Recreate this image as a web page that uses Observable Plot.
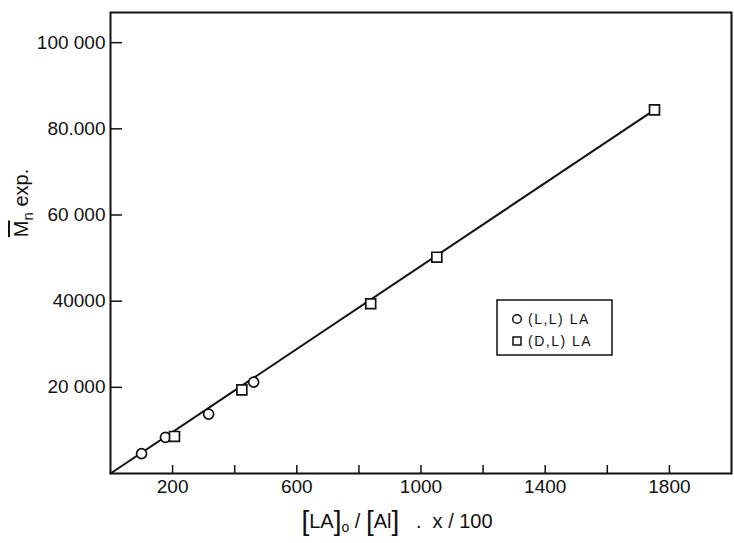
<!DOCTYPE html>
<html>
<head>
<meta charset="utf-8">
<script src="https://cdn.jsdelivr.net/npm/d3@7"></script>
<script src="https://cdn.jsdelivr.net/npm/@observablehq/plot@0.6"></script>
<style>
  html, body { margin: 0; padding: 0; background: #fff; }
  #chart { width: 734px; height: 543px; }
</style>
</head>
<body>
<div id="chart"></div>
<script>
// ---- data ----
const llX = [100, 177, 316, 461];                 // (L,L) LA  — circles
const llY = [4600, 8400, 13800, 21200];
const dlX = [206, 423, 838, 1051, 1752];          // (D,L) LA  — squares
const dlY = [8600, 19400, 39400, 50200, 84400];
const lineX = [0, 1752];                          // straight line through origin
const lineY = [0, 84400];

const xTickValues = [200, 400, 600, 800, 1000, 1200, 1400, 1600, 1800];
const xLabelValues = [200, 600, 1000, 1400, 1800];
const yTickValues = [20000, 40000, 60000, 80000, 100000];
const yTickLabels = ["20 000", "40000", "60 000", "80.000", "100 000"];
const legendLabels = ["(L,L) LA", "(D,L) LA"];

// ---- tables built from the arrays ----
const ll = llX.map((x, i) => ({x, y: llY[i]}));
const dl = dlX.map((x, i) => ({x, y: dlY[i]}));
const fit = lineX.map((x, i) => ({x, y: lineY[i]}));

const W = 734, H = 543;
const mL = 110, mR = 3, mT = 12, mB = 70;
const plotW = W - mL - mR, plotH = H - mT - mB;
const font = "'Liberation Sans', Arial, sans-serif";

const chart = Plot.plot({
  width: W, height: H,
  marginLeft: mL, marginRight: mR, marginTop: mT, marginBottom: mB,
  style: {fontFamily: font, fontSize: "19px", color: "#111", background: "#fff"},
  x: {domain: [0, 2000]},
  y: {domain: [0, 107000]},
  marks: [
    Plot.frame({stroke: "#111", strokeWidth: 2}),
    // inward ticks
    Plot.tickX(xTickValues, {x: d => d, insetTop: plotH - 8, stroke: "#111", strokeWidth: 1.5}),
    Plot.tickY(yTickValues, {y: d => d, insetRight: plotW - 12, stroke: "#111", strokeWidth: 1.5}),
    Plot.axisX({ticks: xLabelValues, tickSize: 0, tickPadding: 6, label: null, tickFormat: d => String(d)}),
    Plot.axisY({ticks: yTickValues, tickSize: 0, tickPadding: 5, label: null,
                tickFormat: d => yTickLabels[yTickValues.indexOf(d)]}),
    Plot.line(fit, {x: "x", y: "y", stroke: "#111", strokeWidth: 2}),
    Plot.dot(ll, {x: "x", y: "y", symbol: "circle", r: 5, stroke: "#111", fill: "#fff", strokeWidth: 1.7}),
    Plot.dot(dl, {x: "x", y: "y", symbol: "square", r: 5.6, stroke: "#111", fill: "#fff", strokeWidth: 1.7})
  ]
});

document.getElementById("chart").appendChild(chart);

const svg = d3.select(chart);

// y-axis title: M̄n exp.
const yt = svg.append("text")
  .attr("transform", "translate(28,203) rotate(-90)")
  .attr("text-anchor", "middle")
  .attr("font-family", font)
  .attr("font-size", 20)
  .attr("fill", "#111");
yt.append("tspan").style("text-decoration", "overline").text("M");
yt.append("tspan").attr("font-size", 15).attr("dy", 5).text("n");
yt.append("tspan").attr("dy", -5).text(" exp.");

// x-axis title: [LA]o / [Al] . x/100
const xt = svg.append("text")
  .attr("x", 397).attr("y", 528)
  .attr("text-anchor", "middle")
  .attr("font-family", font)
  .attr("font-size", 20)
  .attr("fill", "#111");
xt.append("tspan").attr("font-size", 28).attr("font-weight", 300).attr("dy", 2).text("[");
xt.append("tspan").attr("dy", -2).text("LA");
xt.append("tspan").attr("font-size", 28).attr("font-weight", 300).attr("dy", 2).text("]");
xt.append("tspan").attr("font-size", 14).attr("dy", 2).text("o");
xt.append("tspan").attr("dy", -4).text(" / ");
xt.append("tspan").attr("font-size", 28).attr("font-weight", 300).attr("dy", 2).text("[");
xt.append("tspan").attr("dy", -2).text("Al");
xt.append("tspan").attr("font-size", 28).attr("font-weight", 300).attr("dy", 2).text("]");
xt.append("tspan").attr("dy", -2).text("   .  x / 100");

// legend box
const lg = svg.append("g").attr("fill", "none").attr("stroke", "#111");
lg.append("rect").attr("x", 497).attr("y", 300).attr("width", 115).attr("height", 55).attr("stroke-width", 1.5);
lg.append("circle").attr("cx", 517).attr("cy", 319).attr("r", 4.3).attr("stroke-width", 1.5);
lg.append("rect").attr("x", 513).attr("y", 337).attr("width", 8).attr("height", 8).attr("stroke-width", 1.5);
legendLabels.forEach((t, i) => {
  svg.append("text")
    .attr("x", 528).attr("y", 324 + i * 22)
    .attr("text-anchor", "start")
    .attr("font-family", font).attr("font-size", 14)
    .attr("letter-spacing", 1.5)
    .attr("fill", "#111")
    .text(t);
});
</script>
</body>
</html>
